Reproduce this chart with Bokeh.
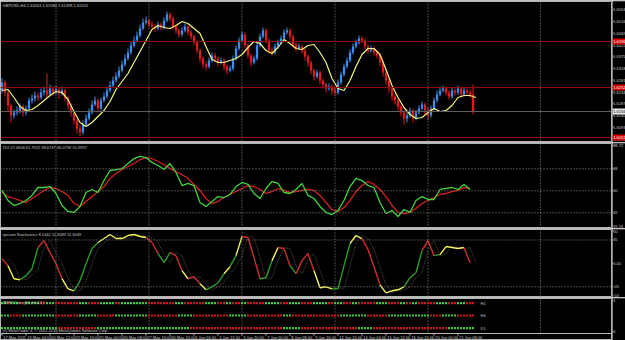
import numpy as np
from bokeh.plotting import figure
from bokeh.layouts import column, row
from bokeh.models import Range1d, Label, Span
from bokeh.core.properties import value
from bokeh.embed import file_html
from bokeh.resources import INLINE

# ------------------------------------------------------------------ data
price_title = "GBPUSD,H4  1.61563 1.61580 1.61498 1.61552"
first_open = 1.6240
close = [1.6272, 1.6232, 1.6180, 1.6140, 1.6152, 1.6160, 1.6176, 1.6152, 1.6168, 1.6200,
         1.6208, 1.6220, 1.6212, 1.6232, 1.6240, 1.6224, 1.6248, 1.6232, 1.6244, 1.6228,
         1.6240, 1.6208, 1.6180, 1.6152, 1.6120, 1.6088, 1.6072, 1.6104, 1.6128, 1.6152,
         1.6184, 1.6200, 1.6168, 1.6200, 1.6216, 1.6240, 1.6260, 1.6280, 1.6296, 1.6320,
         1.6344, 1.6368, 1.6392, 1.6420, 1.6440, 1.6460, 1.6488, 1.6512, 1.6520, 1.6504,
         1.6496, 1.6488, 1.6504, 1.6492, 1.6520, 1.6544, 1.6528, 1.6496, 1.6480, 1.6464,
         1.6480, 1.6496, 1.6472, 1.6456, 1.6432, 1.6400, 1.6368, 1.6344, 1.6336, 1.6360,
         1.6380, 1.6368, 1.6352, 1.6360, 1.6336, 1.6320, 1.6328, 1.6368, 1.6408, 1.6440,
         1.6464, 1.6420, 1.6380, 1.6352, 1.6368, 1.6420, 1.6456, 1.6480, 1.6440, 1.6400,
         1.6392, 1.6416, 1.6432, 1.6448, 1.6472, 1.6480, 1.6456, 1.6424, 1.6408, 1.6416,
         1.6400, 1.6376, 1.6352, 1.6320, 1.6296, 1.6312, 1.6280, 1.6264, 1.6248, 1.6256,
         1.6240, 1.6232, 1.6272, 1.6304, 1.6336, 1.6360, 1.6392, 1.6416, 1.6432, 1.6448,
         1.6440, 1.6416, 1.6400, 1.6408, 1.6392, 1.6380, 1.6352, 1.6312, 1.6280, 1.6248,
         1.6216, 1.6200, 1.6176, 1.6152, 1.6128, 1.6140, 1.6160, 1.6128, 1.6152, 1.6168,
         1.6184, 1.6160, 1.6140, 1.6168, 1.6200, 1.6224, 1.6240, 1.6248, 1.6232, 1.6216,
         1.6240, 1.6232, 1.6248, 1.6224, 1.6240, 1.6232, 1.6224, 1.6156]
high = [1.6288, 1.6280, 1.6240, 1.6188, 1.6164, 1.6176, 1.6188, 1.6184, 1.6180, 1.6212,
        1.6224, 1.6236, 1.6232, 1.6248, 1.6256, 1.6308, 1.6264, 1.6256, 1.6260, 1.6252,
        1.6256, 1.6248, 1.6216, 1.6188, 1.6160, 1.6128, 1.6100, 1.6120, 1.6144, 1.6168,
        1.6200, 1.6216, 1.6208, 1.6212, 1.6232, 1.6256, 1.6276, 1.6296, 1.6312, 1.6336,
        1.6360, 1.6384, 1.6408, 1.6436, 1.6456, 1.6476, 1.6504, 1.6528, 1.6536, 1.6528,
        1.6516, 1.6508, 1.6516, 1.6512, 1.6532, 1.6556, 1.6552, 1.6536, 1.6504, 1.6488,
        1.6492, 1.6508, 1.6504, 1.6480, 1.6464, 1.6440, 1.6408, 1.6376, 1.6356, 1.6372,
        1.6392, 1.6392, 1.6376, 1.6372, 1.6368, 1.6344, 1.6340, 1.6380, 1.6420, 1.6452,
        1.6476, 1.6472, 1.6428, 1.6388, 1.6380, 1.6432, 1.6468, 1.6492, 1.6488, 1.6448,
        1.6412, 1.6428, 1.6444, 1.6460, 1.6484, 1.6492, 1.6488, 1.6464, 1.6432, 1.6428,
        1.6424, 1.6408, 1.6384, 1.6360, 1.6328, 1.6324, 1.6320, 1.6288, 1.6272, 1.6268,
        1.6264, 1.6252, 1.6284, 1.6316, 1.6348, 1.6372, 1.6404, 1.6428, 1.6444, 1.6460,
        1.6456, 1.6448, 1.6424, 1.6420, 1.6416, 1.6400, 1.6388, 1.6360, 1.6320, 1.6288,
        1.6256, 1.6224, 1.6208, 1.6184, 1.6160, 1.6152, 1.6172, 1.6168, 1.6164, 1.6180,
        1.6196, 1.6192, 1.6172, 1.6180, 1.6212, 1.6240, 1.6256, 1.6260, 1.6256, 1.6240,
        1.6252, 1.6248, 1.6260, 1.6256, 1.6252, 1.6248, 1.6244, 1.6264]
low = [1.6228, 1.6216, 1.6160, 1.6112, 1.6128, 1.6140, 1.6148, 1.6136, 1.6140, 1.6160,
       1.6188, 1.6196, 1.6200, 1.6204, 1.6220, 1.6212, 1.6216, 1.6220, 1.6224, 1.6208,
       1.6220, 1.6196, 1.6164, 1.6136, 1.6104, 1.6068, 1.6056, 1.6064, 1.6096, 1.6120,
       1.6144, 1.6176, 1.6152, 1.6160, 1.6192, 1.6208, 1.6232, 1.6252, 1.6272, 1.6288,
       1.6312, 1.6336, 1.6360, 1.6384, 1.6412, 1.6432, 1.6452, 1.6480, 1.6504, 1.6492,
       1.6484, 1.6476, 1.6480, 1.6480, 1.6484, 1.6512, 1.6516, 1.6484, 1.6468, 1.6452,
       1.6456, 1.6472, 1.6460, 1.6444, 1.6420, 1.6388, 1.6352, 1.6328, 1.6320, 1.6328,
       1.6352, 1.6356, 1.6336, 1.6344, 1.6320, 1.6304, 1.6312, 1.6320, 1.6360, 1.6400,
       1.6432, 1.6408, 1.6368, 1.6336, 1.6344, 1.6360, 1.6412, 1.6448, 1.6428, 1.6388,
       1.6380, 1.6384, 1.6408, 1.6424, 1.6440, 1.6464, 1.6444, 1.6412, 1.6396, 1.6400,
       1.6388, 1.6360, 1.6336, 1.6304, 1.6280, 1.6288, 1.6264, 1.6248, 1.6232, 1.6240,
       1.6224, 1.6220, 1.6224, 1.6264, 1.6296, 1.6328, 1.6352, 1.6384, 1.6408, 1.6424,
       1.6428, 1.6404, 1.6388, 1.6392, 1.6380, 1.6368, 1.6336, 1.6296, 1.6264, 1.6232,
       1.6200, 1.6184, 1.6160, 1.6136, 1.6104, 1.6112, 1.6132, 1.6112, 1.6120, 1.6144,
       1.6160, 1.6144, 1.6120, 1.6132, 1.6160, 1.6192, 1.6216, 1.6232, 1.6220, 1.6204,
       1.6208, 1.6220, 1.6224, 1.6212, 1.6216, 1.6220, 1.6212, 1.6144]
# yellow moving average, read every second bar
ma = [1.6240, 1.6244, 1.6212, 1.6176, 1.6160, 1.6164, 1.6180, 1.6200, 1.6220, 1.6236,
      1.6232, 1.6204, 1.6156, 1.6112, 1.6096, 1.6112, 1.6136, 1.6160, 1.6196, 1.6244,
      1.6276, 1.6308, 1.6352, 1.6396, 1.6440, 1.6484, 1.6500, 1.6492, 1.6488, 1.6500,
      1.6516, 1.6508, 1.6488, 1.6468, 1.6416, 1.6364, 1.6352, 1.6352, 1.6360, 1.6368,
      1.6384, 1.6412, 1.6436, 1.6428, 1.6400, 1.6388, 1.6412, 1.6444, 1.6428, 1.6408,
      1.6404, 1.6420, 1.6424, 1.6392, 1.6352, 1.6288, 1.6248, 1.6240, 1.6280, 1.6336,
      1.6384, 1.6408, 1.6408, 1.6384, 1.6324, 1.6260, 1.6212, 1.6172, 1.6144, 1.6128,
      1.6132, 1.6152, 1.6168, 1.6156, 1.6160, 1.6180, 1.6212, 1.6220, 1.6220, 1.6212]
levels = [1.6436, 1.6252, 1.6052]
bid = 1.6156
price_ticks = [1.6563, 1.6516, 1.6469, 1.6422, 1.6375, 1.6328, 1.6281, 1.6234,
               1.6187, 1.6140, 1.6093, 1.6046]

tdi_title = "TDI 57.4658 61.7922 38.6747 46.0739 51.9957"
tdi_green = [50.3, 42.1, 38.0, 39.6, 42.1, 46.2, 52.7, 52.7, 53.5, 47.8,
             38.0, 33.1, 32.3, 37.2, 48.6, 51.1, 48.6, 58.4, 66.6, 67.4,
             68.2, 72.3, 76.4, 78.1, 77.2, 73.2, 70.7, 67.4, 72.3, 65.0,
             54.3, 56.0, 54.3, 40.4, 37.2, 41.3, 45.3, 44.5, 47.0, 53.5,
             56.8, 55.2, 47.8, 43.7, 51.9, 57.6, 56.0, 48.6, 47.8, 51.1,
             56.0, 46.2, 43.7, 37.2, 32.3, 30.6, 33.9, 42.1, 53.5, 60.1,
             58.4, 54.3, 52.7, 40.4, 31.4, 33.9, 29.0, 34.7, 32.3, 42.1,
             45.3, 42.9, 42.9, 51.1, 51.9, 52.7, 51.1, 55.2, 51.1]
tdi_red = [48.6, 45.3, 43.7, 42.1, 40.4, 43.7, 47.0, 50.3, 52.7, 51.9,
           49.4, 46.2, 39.6, 37.2, 41.3, 45.3, 49.4, 53.5, 60.1, 64.2,
           67.4, 69.9, 72.3, 75.6, 77.2, 76.4, 74.0, 71.5, 68.2, 65.8,
           63.3, 60.1, 55.2, 50.3, 43.7, 39.6, 41.3, 44.5, 47.0, 49.4,
           51.9, 54.3, 53.5, 51.1, 47.8, 49.4, 51.9, 50.3, 48.6, 49.4,
           50.3, 51.1, 50.3, 46.2, 40.4, 34.7, 33.1, 36.3, 42.1, 49.4,
           54.3, 57.6, 55.2, 51.1, 45.3, 38.0, 32.3, 31.4, 32.3, 35.5,
           39.6, 42.1, 44.5, 47.0, 47.8, 49.4, 50.3, 52.7, 51.9]
tdi_levels = [68, 50, 32]
tdi_ticks = [86.9, 68, 50, 32, 21.0]
tdi_tick_text = ["88.72", "68", "50", "32", "19.16"]

stoch_title = "sprcam Stochastics 8.1442 11.3089 11.3049"
stoch = [7.1, -3.4, -22.9, -24.4, -18.4, -7.9, 23.7, 34.1, 16.2, -0.4,
         -22.9, -38.0, -41.0, -26.0, -0.4, 22.2, 31.2, 37.2, 43.2, 37.2,
         37.2, 41.7, 43.2, 40.2, 38.7, 31.2, 14.7, 1.1, 16.2, 11.6,
         -10.9, -22.9, -19.9, -30.5, -39.5, -35.0, -29.0, -15.4, -4.9, 11.6,
         40.2, 38.7, 8.6, -22.9, -21.4, 4.1, 23.7, 22.2, -3.4, -15.4,
         4.1, 14.7, -10.9, -36.5, -35.0, -38.0, -38.0, -3.4, 29.7, 41.7,
         37.2, 20.7, -4.9, -32.0, -44.0, -41.0, -39.5, -35.0, -21.4, -13.9,
         19.2, 34.1, 11.6, 13.2, 25.2, 23.7, 22.2, 23.7, 1.1]
# colour state of the line at each point: g rising, r falling, y flat/extreme
stoch_state = ("gryygggrrr" + "ryyggggyyy" + "yyyyyrrggr" + "ryrrygggyg" +
               "yrrrggyrrg" + "rrryyygggy" + "yrrryyyygg" + "grrgyyyyr")
stoch_levels = [35, -35]
stoch_ticks = [48, 35, 0, -35, -48]
stoch_tick_text = ["50", "35", "0.00", "-35", "-50"]

dots_title = "ZMFX Dots (H1,H4,D1)"
dot_rows = ["H1", "H4", "D1"]
h1_runs = [2, 1, 3, 2, 5, 2, 3, 8, 3, 4, 5, 2, 9, 9, 3, 7, 4, 3, 2, 3, 2,
           6, 5, 3, 4, 4, 5, 2, 3, 3, 2, 6, 4, 4, 2, 2, 2, 6, 4, 3, 3, 3]
h4_runs = [3, 4, 11, 8, 6, 6, 11, 10, 5, 12, 6, 12, 3, 16, 9, 7, 14, 4, 5, 6]
d1_runs = [19, 13, 31, 31, 6, 19, 5, 25, 9]

time_labels = ["17 May 2011", "19 May 04:00", "20 May 12:00", "23 May 16:00",
               "25 May 00:00", "26 May 08:00", "27 May 16:00", "30 May 20:00",
               "1 Jun 04:00", "2 Jun 12:00", "3 Jun 20:00", "7 Jun 00:00",
               "8 Jun 08:00", "9 Jun 16:00", "12 Jun 20:00", "14 Jun 04:00",
               "15 Jun 12:00", "16 Jun 20:00", "20 Jun 00:00", "21 Jun 08:00"]
bars_per_label = 8
grid_bars = [18, 49, 80, 111, 142, 179.5]
copyright_text = "(c) MetaTrader 4, \u00a9 2001-2010 MetaQuotes Software Corp."

# ------------------------------------------------------------------ style
FONT = "Liberation Sans"
TXT = "#c8c8c8"
FS = "4px"
BLUE, RED = "#3d8eea", "#e11b1b"

xr = Range1d(0, 611 / 3.0)


def main_fig(h, yr, top=1, bottom=0, spans=True):
    p = figure(width=612, height=h, x_range=xr, y_range=yr, output_backend="svg",
               toolbar_location=None, x_axis_location=None, y_axis_location=None,
               min_border_left=0, min_border_right=1, min_border_top=top,
               min_border_bottom=bottom, background_fill_color="black",
               border_fill_color="black")
    p.outline_line_color = "#b4b4b4"
    p.outline_line_width = 1
    p.grid.visible = False
    if spans:
        for gx in grid_bars:
            p.add_layout(Span(location=gx + 0.5, dimension="height", line_color="#8a8a8a",
                              line_dash="1 2", line_width=1))
    return p


def side_fig(h, yr, top=1, bottom=0):
    s = figure(width=13, height=h, x_range=Range1d(0, 1), y_range=yr, output_backend="svg",
               toolbar_location=None, x_axis_location=None, y_axis_location=None,
               min_border_left=0, min_border_right=0, min_border_top=top,
               min_border_bottom=bottom, background_fill_color="black",
               border_fill_color="black")
    s.outline_line_color = None
    s.grid.visible = False
    return s


def side_labels(s, ys, texts, color=TXT):
    s.segment(x0=[0] * len(ys), x1=[0.08] * len(ys), y0=ys, y1=ys, line_color="#b4b4b4")
    s.text(x=[0.05] * len(ys), y=ys, text=texts, text_font=value(FONT),
           text_font_size=FS, text_color=color, text_baseline="middle", text_align="left")


def title(p, y, text):
    p.add_layout(Label(x=0.7, y=y, text=text, text_font=FONT, text_font_size=FS,
                       text_color=TXT, text_baseline="top"))


# ------------------------------------------------------------------ price panel
yr1 = Range1d(1.6032, 1.6596)
p1 = main_fig(142, yr1, top=1)
s1 = side_fig(142, yr1, top=1)
for lv in levels:
    p1.add_layout(Span(location=lv, dimension="width", line_color="#8e0c0c", line_width=1))
p1.add_layout(Span(location=bid, dimension="width", line_color="#5e5e5e", line_width=1))

n = len(close)
bx = np.arange(n) + 0.5
cl = np.array(close)
op = np.array([first_open] + close[:-1])
cols = np.where(cl >= op, BLUE, RED)
p1.segment(x0=bx, x1=bx, y0=high, y1=low, line_color=cols, line_width=1)
p1.vbar(x=bx, width=0.76, top=np.maximum(op, cl), bottom=np.minimum(op, cl),
        fill_color=cols, line_color=None)
ma_x = np.arange(len(ma)) * 2 + 0.5
p1.line(ma_x, ma, line_color="#f4f47c", line_width=1.2)
title(p1, 1.6590, price_title)

side_labels(s1, price_ticks, [f"{t:.4f}" for t in price_ticks])
s1.rect(x=[0.5] * len(levels), y=levels, width=1, height=6, height_units="screen",
        fill_color="#d40000", line_color=None)
s1.text(x=[0.05] * len(levels), y=levels, text=[f"{v:.4f}" for v in levels],
        text_font=value(FONT), text_font_size=FS, text_color="white",
        text_baseline="middle", text_align="left")
s1.rect(x=[0.5], y=[bid], width=1, height=6, height_units="screen",
        fill_color="#e6e6e6", line_color=None)
s1.text(x=[0.05], y=[bid], text=[f"{bid:.4f}"], text_font=value(FONT), text_font_size=FS,
        text_color="black", text_baseline="middle", text_align="left")

# ------------------------------------------------------------------ TDI panel
yr2 = Range1d(19.16, 88.70)
p2 = main_fig(86, yr2, top=1)
s2 = side_fig(86, yr2, top=1)
for lv in tdi_levels:
    p2.add_layout(Span(location=lv, dimension="width", line_color="#8a8a8a",
                       line_dash="1 2", line_width=1))
tx = np.arange(len(tdi_green)) * 2 + 0.5
p2.line(tx, tdi_red, line_color="#d42020", line_width=1.3)
p2.line(tx, tdi_green, line_color="#40d440", line_width=1.3)
title(p2, 87.3, tdi_title)
side_labels(s2, tdi_ticks, tdi_tick_text)

# ------------------------------------------------------------------ stochastic panel
yr3 = Range1d(-51.0, 50.7)
p3 = main_fig(69, yr3, top=1)
s3 = side_fig(69, yr3, top=1)
for lv in stoch_levels:
    p3.add_layout(Span(location=lv, dimension="width", line_color="#8a8a8a",
                       line_dash="1 2", line_width=1))
sx = np.arange(len(stoch)) * 2 + 0.5
# signal line: the main line one sample later, dotted
p3.line(sx + 2, stoch, line_color="#4e4e3e", line_dash="1 1", line_width=1)
cmap = {"g": "#2f9a2f", "r": "#cc3030", "y": "#f4f45c"}
seg_cols = [cmap[c] for c in stoch_state[1:len(stoch)]]
p3.segment(x0=sx[:-1], y0=stoch[:-1], x1=sx[1:], y1=stoch[1:], line_color=seg_cols,
           line_width=1.4)
title(p3, 47.7, stoch_title)
side_labels(s3, stoch_ticks, stoch_tick_text)

# ------------------------------------------------------------------ dots panel + time axis
yr4 = Range1d(-0.2, 1.0)
p4 = main_fig(43, yr4, top=1, spans=False)
s4 = side_fig(43, yr4, top=1)
gxs = [g + 0.5 for g in grid_bars]
p4.segment(x0=gxs, x1=gxs, y0=[0] * len(gxs), y1=[1] * len(gxs), line_color="#8a8a8a",
           line_dash="1 2", line_width=1)
row_y = [0.866, 0.514, 0.151]


def expand(runs):
    out, c = [], "g"
    for r in runs:
        out += [c] * r
        c = "r" if c == "g" else "g"
    return out


for runs, yv in zip([h1_runs, h4_runs, d1_runs], row_y):
    st = expand(runs)
    xs = np.arange(len(st)) + 0.5
    p4.rect(x=xs, y=[yv] * len(st), width=0.66, height=2.2, height_units="screen",
            fill_color=["#3ccc3c" if c == "g" else "#cc1c1c" for c in st], line_color=None)
p4.text(x=[160.0] * 3, y=row_y, text=dot_rows, text_font=value(FONT), text_font_size=FS,
        text_color=TXT, text_baseline="middle", text_align="left")
title(p4, 0.97, dots_title)
p4.add_layout(Label(x=0.7, y=0.01, text=copyright_text, text_font=FONT,
                    text_font_size=FS, text_color=TXT, text_baseline="bottom"))
# time axis line and labels
p4.add_layout(Span(location=0, dimension="width", line_color="#b4b4b4", line_width=1))
lx = np.arange(len(time_labels)) * bars_per_label + 0.5
p4.segment(x0=lx, x1=lx, y0=[0.0] * len(lx), y1=[-0.06] * len(lx), line_color="#b4b4b4")
p4.text(x=lx + 0.4, y=[-0.105] * len(lx), text=time_labels, text_font=value(FONT),
        text_font_size=FS, text_color=TXT, text_baseline="middle", text_align="left")
side_labels(s4, [0.93, 0.05], ["1", "0"])

layout = column(row(p1, s1), row(p2, s2), row(p3, s3), row(p4, s4), spacing=0)
open("out.html", "w").write(file_html(layout, INLINE))
